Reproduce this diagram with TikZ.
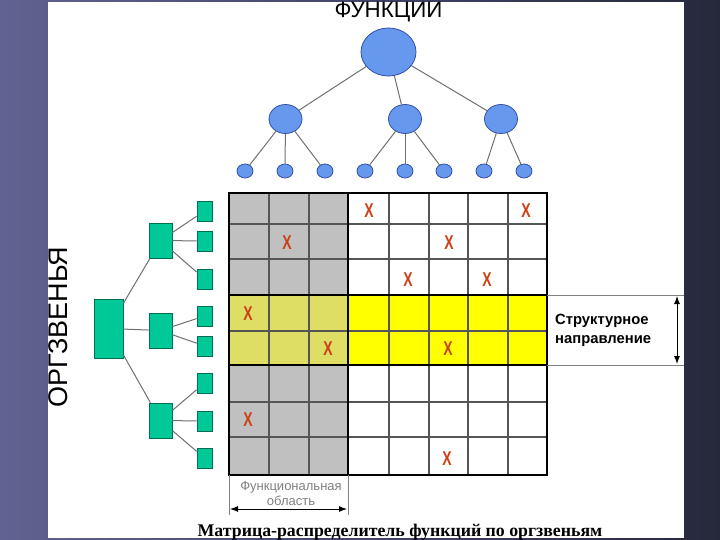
\documentclass[tikz,border=0pt]{standalone}
\usepackage{fontspec}
\setmainfont{Liberation Sans}
\newfontfamily\capfont{Liberation Serif}
\usetikzlibrary{arrows.meta,shapes.geometric}
\definecolor{bgleft}{RGB}{98,98,146}
\definecolor{bgright}{RGB}{38,40,60}
\definecolor{cellgray}{RGB}{192,192,192}
\definecolor{cellolive}{RGB}{222,222,100}
\definecolor{cellyellow}{RGB}{255,255,0}
\definecolor{gridc}{RGB}{85,85,85}
\definecolor{xred}{RGB}{204,64,24}
\definecolor{cfill}{RGB}{102,153,238}
\definecolor{cdraw}{RGB}{50,80,160}
\definecolor{gfill}{RGB}{0,200,150}
\definecolor{gdraw}{RGB}{0,110,80}
\definecolor{edgec}{RGB}{112,112,112}
\tikzset{
  circnode/.style={ellipse,fill=cfill,draw=cdraw,line width=0.8pt,inner sep=0pt},
  bigcirc/.style={circnode,minimum width=55pt,minimum height=48pt},
  midcirc/.style={circnode,minimum width=33pt,minimum height=29pt},
  smallcirc/.style={circnode,minimum width=16pt,minimum height=14pt},
  grect/.style={rectangle,fill=gfill,draw=gdraw,line width=0.8pt,inner sep=0pt},
  bigrect/.style={grect,minimum width=29pt,minimum height=59pt},
  midrect/.style={grect,minimum width=23pt,minimum height=35pt},
  smallrect/.style={grect,minimum width=15pt,minimum height=20pt},
  edge/.style={draw=edgec,line width=1pt},
  gridline/.style={draw=gridc,line width=1.5pt},
  frameline/.style={draw=black,line width=2.2pt},
  xmark/.style={text=xred,font=\bfseries\fontsize{20}{20}\selectfont,xscale=0.7,inner sep=0pt},
  dimline/.style={draw=gray,line width=0.7pt},
  dimarrow/.style={draw=black,line width=1pt,{Latex[length=8pt,width=6pt]}-{Latex[length=8pt,width=6pt]}}
}
\begin{document}
\begin{tikzpicture}[x=1pt,y=-1pt]
\useasboundingbox (0,0) rectangle (720,540);
\shade[left color=bgleft,right color=bgright] (0,0) rectangle (720,540);
\fill[white] (48,2) rectangle (684,538);

% matrix fills
\fill[cellgray] (229,193) rectangle (348,295);
\fill[cellgray] (229,365) rectangle (348,475);
\fill[cellolive] (229,295) rectangle (348,365);
\fill[cellyellow] (348,295) rectangle (547,365);
% grid
\foreach \x in {269,309,389,429,468,508} \draw[gridline] (\x,193) -- (\x,475);
\foreach \y in {224,259,331,402,437} \draw[gridline] (229,\y) -- (547,\y);
\draw[frameline] (348,193) -- (348,475);
\draw[frameline] (229,295) -- (547,295);
\draw[frameline] (229,365) -- (547,365);
\draw[frameline] (229,193) rectangle (547,475);

% X marks
\node[xmark] (x11) at (369,211) {X};
\node[xmark] (x12) at (526,211) {X};
\node[xmark] (x21) at (287,243) {X};
\node[xmark] (x22) at (449,243) {X};
\node[xmark] (x31) at (408,280) {X};
\node[xmark] (x32) at (487,280) {X};
\node[xmark] (x41) at (248,314) {X};
\node[xmark] (x51) at (328,349) {X};
\node[xmark] (x52) at (448,349) {X};
\node[xmark] (x71) at (248,420) {X};
\node[xmark] (x81) at (447,459) {X};

% functions tree
\node[bigcirc] (F) at (388.5,52) {};
\node[midcirc] (f1) at (285.5,119) {};
\node[midcirc] (f2) at (405,119) {};
\node[midcirc] (f3) at (501,119) {};
\foreach \n/\x in {s1/245,s2/285,s3/325,s4/365,s5/405,s6/444,s7/484,s8/524}
  \node[smallcirc] (\n) at (\x,171) {};
\foreach \a/\b in {F/f1,F/f2,F/f3,f1/s1,f1/s2,f1/s3,f2/s4,f2/s5,f2/s6,f3/s7,f3/s8}
  \draw[edge] (\a) -- (\b);

% org tree
\node[bigrect] (B) at (108.5,328.5) {};
\node[midrect] (m1) at (160.5,240.5) {};
\node[midrect] (m2) at (160.5,330.5) {};
\node[midrect] (m3) at (160.5,420.5) {};
\foreach \n/\y in {r1/211,r2/241,r3/279,r4/316,r5/346,r6/383,r7/421,r8/458}
  \node[smallrect] (\n) at (204.5,\y) {};
\foreach \a/\b in {B/m1,B/m2,B/m3,m1/r1,m1/r2,m1/r3,m2/r4,m2/r5,m3/r6,m3/r7,m3/r8}
  \draw[edge] (\a) -- (\b);

% titles
\node[anchor=base,inner sep=0pt,font=\fontsize{22.3}{22}\selectfont] (tf) at (388.5,18) {ФУНКЦИИ};
\node[anchor=base,inner sep=0pt,rotate=90,font=\fontsize{27}{27}\selectfont] (to) at (67,327) {ОРГЗВЕНЬЯ};

% structural direction
\coordinate (h1a) at (547,295); \coordinate (h1b) at (684,295);
\coordinate (h2a) at (547,365); \coordinate (h2b) at (684,365);
\draw[dimline] (h1a) -- (h1b);
\draw[dimline] (h2a) -- (h2b);
\coordinate (va) at (677,296); \coordinate (vb) at (677,364);
\draw[dimarrow] (va) -- (vb);
\node[anchor=base west,inner sep=0pt,font=\bfseries\fontsize{14.8}{14.8}\selectfont] (st1) at (555,324) {Структурное};
\node[anchor=base west,inner sep=0pt,font=\bfseries\fontsize{14.8}{14.8}\selectfont] (st2) at (555,343) {направление};

% functional area
\coordinate (fa1) at (229,475); \coordinate (fa2) at (229,515);
\coordinate (fb1) at (348,475); \coordinate (fb2) at (348,515);
\draw[dimline] (fa1) -- (fa2);
\draw[dimline] (fb1) -- (fb2);
\coordinate (ha) at (230,509); \coordinate (hb) at (347,509);
\draw[dimarrow] (ha) -- (hb);
\node[anchor=base,inner sep=0pt,text=gray,font=\fontsize{13}{13}\selectfont] (fl1) at (291,490) {Функциональная};
\node[anchor=base,inner sep=0pt,text=gray,font=\fontsize{13}{13}\selectfont] (fl2) at (291,505) {область};

% caption
\node[anchor=base,inner sep=0pt,font=\capfont\bfseries\fontsize{17.8}{17.8}\selectfont] (cap) at (400,536) {Матрица-распределитель функций по оргзвеньям};
\end{tikzpicture}
\end{document}
